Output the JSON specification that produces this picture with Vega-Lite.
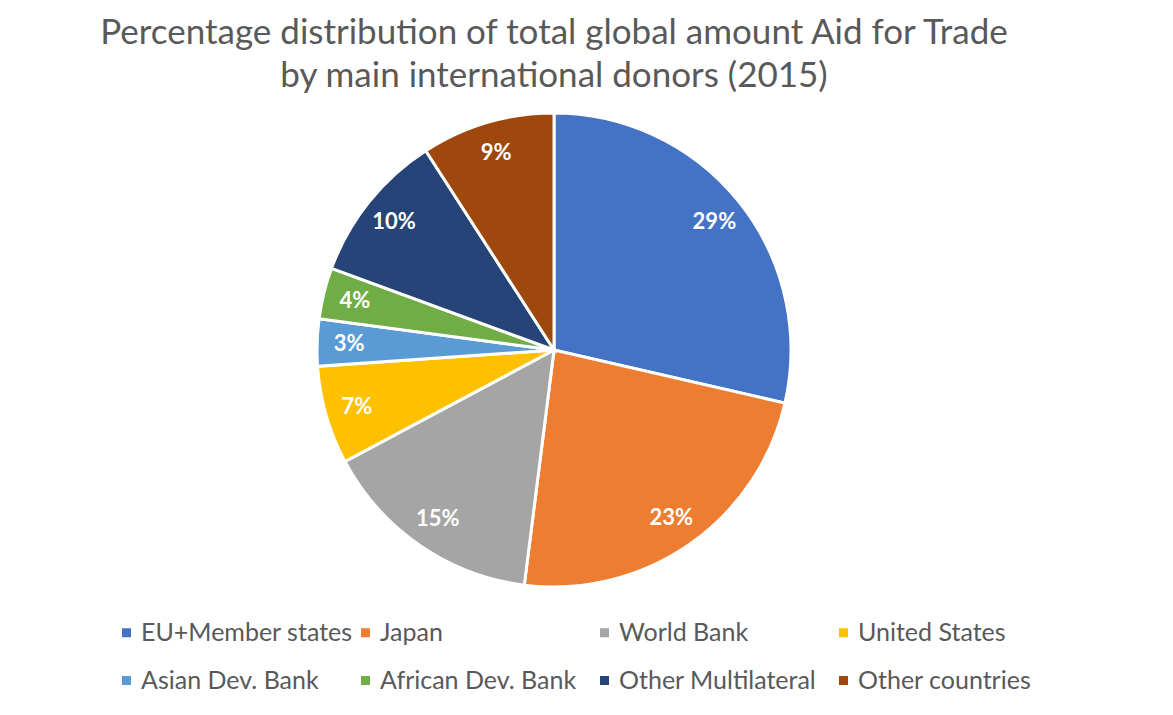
{
  "$schema": "https://vega.github.io/schema/vega-lite/v6.json",
  "width": 1108,
  "height": 474,
  "autosize": "none",
  "padding": {"top": 113, "left": 0, "right": 65, "bottom": 128},
  "background": "white",
  "title": {
    "text": ["Percentage distribution of total global amount Aid for Trade", "by main international donors (2015)"],
    "font": "Lato",
    "fontSize": 35,
    "fontWeight": "normal",
    "color": "#595959",
    "anchor": "middle",
    "lineHeight": 43,
    "offset": 13
  },
  "data": {
    "values": [
      {"donor": "EU+Member states", "value": 28.6, "label": "29%", "order": 1},
      {"donor": "Japan", "value": 23.4, "label": "23%", "order": 2},
      {"donor": "World Bank", "value": 15.2, "label": "15%", "order": 3},
      {"donor": "United States", "value": 6.7, "label": "7%", "order": 4},
      {"donor": "Asian Dev. Bank", "value": 3.2, "label": "3%", "order": 5},
      {"donor": "African Dev. Bank", "value": 3.5, "label": "4%", "order": 6},
      {"donor": "Other Multilateral", "value": 10.3, "label": "10%", "order": 7},
      {"donor": "Other countries", "value": 9.1, "label": "9%", "order": 8}
    ]
  },
  "encoding": {
    "theta": {"field": "value", "type": "quantitative", "stack": true},
    "order": {"field": "order", "type": "quantitative", "sort": "ascending"},
    "color": {
      "field": "donor",
      "type": "nominal",
      "scale": {
        "domain": ["EU+Member states", "Japan", "World Bank", "United States", "Asian Dev. Bank", "African Dev. Bank", "Other Multilateral", "Other countries"],
        "range": ["#4472C4", "#ED7D31", "#A5A5A5", "#FFC000", "#5B9BD5", "#70AD47", "#264478", "#9E480E"]
      },
      "legend": {
        "title": null,
        "orient": "none",
        "legendX": 114,
        "legendY": 507,
        "direction": "horizontal",
        "columns": 4,
        "gridAlign": "all",
        "columnPadding": -7,
        "rowPadding": 22,
        "symbolType": "square",
        "symbolSize": 81,
        "symbolStrokeWidth": 0,
        "symbolOffset": 0,
        "labelFont": "Lato",
        "labelFontSize": 25,
        "labelColor": "#595959",
        "labelOffset": 2,
        "labelLimit": 400
      }
    }
  },
  "layer": [
    {
      "mark": {"type": "arc", "radius": 237, "stroke": "white", "strokeWidth": 3}
    },
    {
      "mark": {"type": "text", "radius": 205, "font": "Lato", "fontSize": 22, "fontWeight": "bold", "color": "white"},
      "encoding": {
        "text": {"field": "label", "type": "nominal"},
        "color": {"value": "white"}
      }
    }
  ],
  "config": {"view": {"stroke": null}}
}
